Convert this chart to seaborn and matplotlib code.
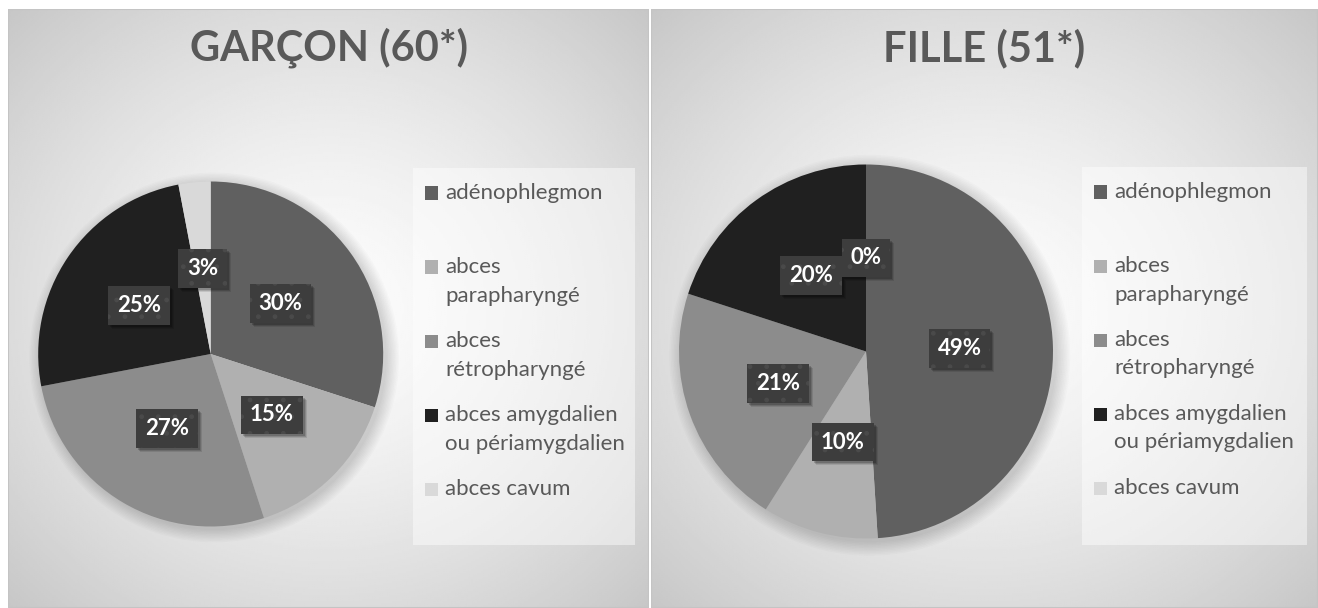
import numpy as np
import matplotlib.pyplot as plt
from matplotlib.patches import Rectangle, Circle
from matplotlib.transforms import IdentityTransform
import seaborn as sns

# Data
categories = ['adénophlegmon', 'abces parapharyngé', 'abces rétropharyngé',
              'abces amygdalien ou périamygdalien', 'abces cavum']
legend_labels = ['adénophlegmon', 'abces\nparapharyngé', 'abces\nrétropharyngé',
                 'abces amygdalien\nou périamygdalien', 'abces cavum']
garcon_pct = [30, 15, 27, 25, 3]
fille_pct = [49, 10, 21, 20, 0]
titles = ['GARÇON (60*)', 'FILLE (51*)']
colors = ['#606060', '#b0b0b0', '#8c8c8c', '#202020', '#d9d9d9']

sns.set_theme(style='white')
plt.rcParams['font.family'] = ['Lato', 'DejaVu Sans']
plt.rcParams['hatch.linewidth'] = 1.0

W, H = 1318, 608
fig = plt.figure(figsize=(W / 100, H / 100), dpi=100)
fig.patch.set_facecolor('white')


def box(x0, y0, x1, y1):
    # pixel rectangle (origin top-left) -> figure fraction [l, b, w, h]
    return [x0 / W, 1 - y1 / H, (x1 - x0) / W, (y1 - y0) / H]


panels = [
    dict(rect=(8, 9, 649, 608), pie=(210.7, 354, 172.5),
         legend=(413, 168, 635, 545), values=garcon_pct, title=titles[0]),
    dict(rect=(651, 9, 1318, 608), pie=(866, 351.5, 187),
         legend=(1082, 167, 1307, 545), values=fille_pct, title=titles[1]),
]

label_sets = []
for p in panels:
    x0, y0, x1, y1 = p['rect']

    # radial gradient background
    bg = fig.add_axes(box(x0, y0, x1, y1))
    gx, gy = np.meshgrid(np.linspace(-1, 1, 300), np.linspace(-1, 1, 300))
    d = np.sqrt(gx ** 2 + gy ** 2) / np.sqrt(2)
    grad = 0.99 - 0.21 * d ** 1.4
    bg.imshow(grad, cmap='gray', vmin=0, vmax=1, extent=(0, 1, 0, 1), aspect='auto')
    bg.add_patch(Rectangle((0, 0), 1, 1, transform=bg.transAxes, fill=False,
                           edgecolor='#c4c4c4', linewidth=1.5))
    bg.set_xlim(0, 1)
    bg.set_ylim(0, 1)
    bg.axis('off')

    # title
    fig.text((x0 + x1) / 2 / W, 1 - 61 / H, p['title'], ha='center', va='baseline',
             fontsize=30, fontweight='bold', color='#595959')

    # pie
    cx, cy, r = p['pie']
    ax = fig.add_axes(box(cx - r, cy - r, cx + r, cy + r))
    for k in range(10):
        ax.add_patch(Circle((0.02, -0.02), 1 + 0.008 * k, color='black',
                            alpha=0.016, zorder=0, clip_on=False, linewidth=0))
    wedges, texts, autotexts = ax.pie(
        p['values'], colors=colors, startangle=90, counterclock=False,
        autopct=lambda v: f'{v:.0f}%', pctdistance=0.5,
        wedgeprops=dict(linewidth=0),
        textprops=dict(color='white', fontsize=16, fontweight='bold', zorder=5))
    for t in autotexts:
        t.set_bbox(dict(boxstyle='square,pad=0.4', facecolor='#3d3d3d',
                        edgecolor='#4a4a4a', linewidth=0, hatch='.'))
    ax.set_xlim(-1, 1)
    ax.set_ylim(-1, 1)
    ax.axis('off')
    label_sets.append((ax, autotexts))

    # legend (drawn by hand to keep Excel-like wrapping)
    lx0, ly0, lx1, ly1 = p['legend']
    fig.patches.append(Rectangle((lx0 / W, 1 - ly1 / H), (lx1 - lx0) / W, (ly1 - ly0) / H,
                                 transform=fig.transFigure, facecolor='white',
                                 alpha=0.45, edgecolor='none'))
    for i, lab in enumerate(legend_labels):
        yc = ly0 + 23 + i * 74
        fig.patches.append(Rectangle(((lx0 + 12) / W, 1 - (yc + 8.5) / H), 13 / W, 13 / H,
                                     transform=fig.transFigure, facecolor=colors[i],
                                     edgecolor='none'))
        for j, line in enumerate(lab.split('\n')):
            fig.text((lx0 + 32) / W, 1 - (yc + 8 + j * 28.5) / H, line,
                     ha='left', va='baseline', fontsize=16, color='#595959')

# soft drop shadows behind the data-label boxes
fig.canvas.draw()
for ax, autotexts in label_sets:
    for t in autotexts:
        ext = t.get_bbox_patch().get_window_extent()
        for off, a in [(4, 0.10), (3, 0.14), (2, 0.18)]:
            ax.add_patch(Rectangle((ext.x0 + off, ext.y0 - off), ext.width, ext.height,
                                   transform=IdentityTransform(), facecolor='black',
                                   edgecolor='none', alpha=a, zorder=4, clip_on=False))
    ax.set_xlim(-1, 1)
    ax.set_ylim(-1, 1)

fig.savefig('out.png', dpi=100, facecolor='white')
